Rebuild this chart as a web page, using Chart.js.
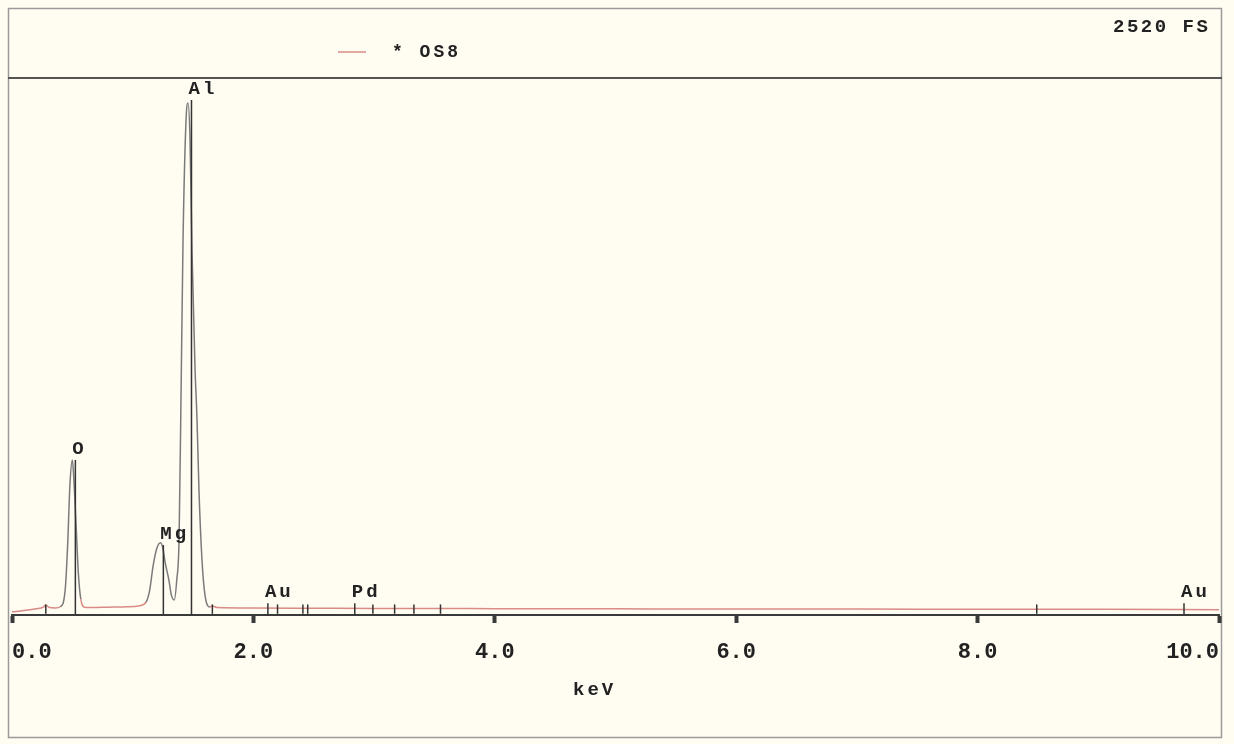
<!DOCTYPE html>
<html>
<head>
<meta charset="utf-8">
<script src="https://cdn.jsdelivr.net/npm/chart.js@4"></script>
<style>
  body { margin: 0; background: #fffcf2; }
  canvas { display: block; }
</style>
</head>
<body>
<canvas id="spectrum" width="1234" height="744"></canvas>
<script>
// EDS spectrum, sample OS8 (keV vs counts, full scale 2520)
var energy = [0, 0.1, 0.2, 0.26, 0.28, 0.31, 0.36, 0.40, 0.44, 0.46, 0.48, 0.50, 0.51, 0.53, 0.55, 0.57, 0.60,
  0.65, 0.8, 0.95, 1.05, 1.11, 1.14, 1.17, 1.20, 1.23, 1.25, 1.27, 1.30, 1.32, 1.345, 1.365, 1.384, 1.40, 1.417,
  1.442, 1.458, 1.475, 1.491, 1.516, 1.533, 1.549, 1.574, 1.599, 1.64, 1.66, 1.70, 2.0, 2.5, 3.0, 3.5, 4.0,
  5.0, 6.0, 7.0, 8.0, 9.0, 10.0];
var counts = [0, 6, 14, 22, 32, 20, 18, 24, 100, 300, 600, 717, 650, 420, 180, 60, 22,
  20, 22, 24, 28, 45, 100, 220, 300, 326, 300, 230, 150, 80, 56, 150, 339, 1000, 1756,
  2322, 2402, 2228, 1708, 1156, 906, 575, 245, 79, 23, 28, 20, 18, 17, 16, 16, 15,
  14, 13, 13, 12, 12, 10];
var xTicks = [0, 2, 4, 6, 8, 10];

// element markers
var markerKeV = [0.525, 1.254, 1.487, 2.12, 2.84, 9.71];
var markerTop = [717, 315, 2416, 40, 40, 40];
var markerText = ['O', 'Mg', 'Al', 'Au', 'Pd', 'Au'];
var minorKeV = [0.28, 1.66, 2.2, 2.41, 2.45, 2.99, 3.17, 3.33, 3.55, 8.49];

var fullScale = 2520;
var sampleName = '* OS8';
var monoFont = '"Liberation Mono", "DejaVu Sans Mono", monospace';

var points = energy.map(function(e, i) { return {x: e, y: counts[i]}; });

var framePlugin = {
  id: 'frame',
  beforeDraw: function(chart) {
    var ctx = chart.ctx;
    ctx.save();
    ctx.fillStyle = '#fffcf2';
    ctx.fillRect(0, 0, chart.width, chart.height);
    ctx.strokeStyle = '#9a9a9a';
    ctx.lineWidth = 1.5;
    ctx.strokeRect(8.5, 8.5, 1213, 729);
    ctx.strokeStyle = '#555';
    ctx.lineWidth = 2;
    ctx.beginPath();
    ctx.moveTo(8, 78);
    ctx.lineTo(1222, 78);
    ctx.stroke();
    ctx.restore();
  },
  afterDraw: function(chart) {
    var ctx = chart.ctx;
    var xs = chart.scales.x;
    var ys = chart.scales.y;
    ctx.save();
    // header
    ctx.strokeStyle = '#d98b86';
    ctx.lineWidth = 1.5;
    ctx.beginPath();
    ctx.moveTo(338, 52);
    ctx.lineTo(366, 52);
    ctx.stroke();
    ctx.fillStyle = '#222';
    ctx.font = 'bold 18px ' + monoFont;
    ctx.letterSpacing = '3px';
    ctx.textBaseline = 'middle';
    ctx.textAlign = 'left';
    ctx.fillText(sampleName, 392, 52);
    ctx.font = 'bold 19px ' + monoFont;
    ctx.letterSpacing = '2.5px';
    ctx.fillText(fullScale + ' FS', 1113, 27);
    ctx.font = 'bold 19px ' + monoFont;
    ctx.letterSpacing = '3px';
    ctx.fillText('keV', 573, 690);

    // marker lines
    ctx.strokeStyle = '#333';
    ctx.lineWidth = 1.5;
    var y0 = ys.getPixelForValue(0);
    markerKeV.forEach(function(k, i) {
      var px = xs.getPixelForValue(k);
      var top = ys.getPixelForValue(markerTop[i]);
      ctx.beginPath();
      ctx.moveTo(px, chart.chartArea.bottom);
      ctx.lineTo(px, top);
      ctx.stroke();
    });
    minorKeV.forEach(function(k) {
      var px = xs.getPixelForValue(k);
      ctx.beginPath();
      ctx.moveTo(px, y0 + 2);
      ctx.lineTo(px, ys.getPixelForValue(35));
      ctx.stroke();
    });

    // marker labels
    ctx.font = 'bold 19px ' + monoFont;
    ctx.letterSpacing = '3px';
    ctx.textAlign = 'left';
    ctx.textBaseline = 'alphabetic';
    markerKeV.forEach(function(k, i) {
      var px = xs.getPixelForValue(k);
      var top = ys.getPixelForValue(markerTop[i]);
      ctx.fillText(markerText[i], px - 3, top - 6);
    });
    ctx.restore();
  }
};

new Chart(document.getElementById('spectrum'), {
  type: 'line',
  data: {
    datasets: [{
      data: points,
      borderColor: '#7a7a7a',
      borderWidth: 1.5,
      pointRadius: 0,
      cubicInterpolationMode: 'monotone',
      fill: false,
      segment: {
        borderColor: function(c) {
          return (c.p0.parsed.y > 60 || c.p1.parsed.y > 60) ? '#7a7a7a' : '#d98b86';
        },
      },
    }],
  },
  options: {
    responsive: false,
    animation: false,
    layout: {
      padding: {left: 12, right: 15, top: 78, bottom: 0},
    },
    plugins: {
      legend: {display: false},
      tooltip: {enabled: false},
    },
    scales: {
      x: {
        type: 'linear',
        min: 0,
        max: 10,
        afterFit: function(s) {
          s.height = 129;
          s.paddingLeft = 0;
          s.paddingRight = 0;
        },
        afterBuildTicks: function(s) { s.ticks = xTicks.map(function(v) { return {value: v}; }); },
        border: {display: true, color: '#3a3a3a', width: 2},
        grid: {drawOnChartArea: false, drawTicks: true, tickLength: 8, tickWidth: 4, tickColor: '#3a3a3a'},
        ticks: {
          align: 'inner',
          padding: 16,
          color: '#222',
          font: {family: monoFont, size: 22, weight: 'bold'},
          callback: function(v) { return v.toFixed(1); },
        },
      },
      y: {
        display: false,
        min: -15,
        max: fullScale,
      },
    },
  },
  plugins: [framePlugin],
});
</script>
</body>
</html>
